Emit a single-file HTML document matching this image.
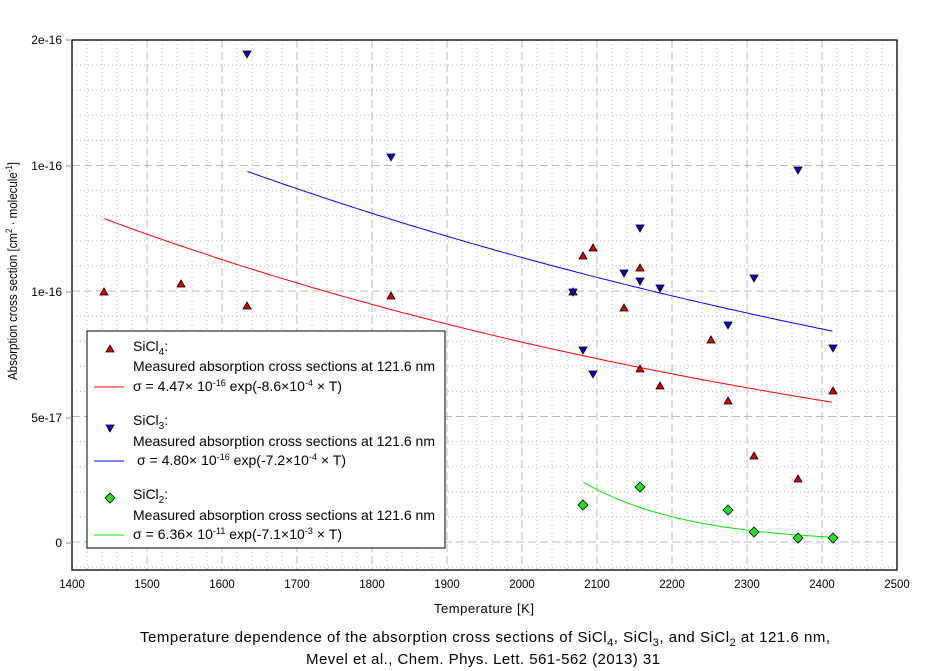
<!DOCTYPE html>
<html><head><meta charset="utf-8"><style>
html,body{margin:0;padding:0;background:#fff;}
svg{display:block;font-family:"Liberation Sans",Arial,sans-serif;}
</style></head><body>
<svg id="s" width="937" height="671" viewBox="0 0 937 671" xmlns="http://www.w3.org/2000/svg">
<g id="grid"></g>
<g id="curves" fill="none" stroke-width="1"></g>
<g id="pts" stroke="#000" stroke-width="0.8"></g>
<rect x="72" y="40" width="825" height="530" fill="none" stroke="#000" stroke-width="1.3"/>
<g id="labels" font-size="12" fill="#000"></g>
<text transform="translate(17,271) rotate(-90)" text-anchor="middle" font-size="13" textLength="218" lengthAdjust="spacingAndGlyphs">Absorption cross section [cm<tspan dy="-5" font-size="9">2</tspan><tspan dy="5"> · molecule</tspan><tspan dy="-5" font-size="9">-1</tspan><tspan dy="5">]</tspan></text>
<text x="484" y="613" text-anchor="middle" font-size="13" textLength="100" lengthAdjust="spacing">Temperature [K]</text>
<text x="140" y="642" font-size="15" textLength="690" lengthAdjust="spacing">Temperature dependence of the absorption cross sections of SiCl<tspan dy="4" font-size="11">4</tspan><tspan dy="-4">, SiCl</tspan><tspan dy="4" font-size="11">3</tspan><tspan dy="-4">, and SiCl</tspan><tspan dy="4" font-size="11">2</tspan><tspan dy="-4"> at 121.6 nm,</tspan></text>
<text x="306" y="664" font-size="15" textLength="354" lengthAdjust="spacing">Mevel et al., Chem. Phys. Lett. 561-562 (2013) 31</text>
<g id="legend">
<rect x="87" y="331" width="358" height="217" fill="#fff" stroke="#000" stroke-width="1"/>
<polygon points="110,345 114,352 106,352" fill="#e00000" stroke="#000" stroke-width="0.8"/>
<text x="133" y="351" font-size="14">SiCl<tspan dy="4" font-size="10">4</tspan><tspan dy="-4">:</tspan></text>
<text x="133" y="371" font-size="14" textLength="302" lengthAdjust="spacing">Measured absorption cross sections at 121.6 nm</text>
<line x1="94" y1="387" x2="124" y2="387" stroke="#ff0000"/>
<text x="133" y="391" font-size="14" textLength="209" lengthAdjust="spacing">σ = 4.47× 10<tspan dy="-5" font-size="9">-16</tspan><tspan dy="5"> exp(-8.6×10</tspan><tspan dy="-5" font-size="9">-4</tspan><tspan dy="5"> × T)</tspan></text>
<polygon points="106,425 114,425 110,432" fill="#0000e0" stroke="#000" stroke-width="0.8"/>
<text x="133" y="425" font-size="14">SiCl<tspan dy="4" font-size="10">3</tspan><tspan dy="-4">:</tspan></text>
<text x="133" y="446" font-size="14" textLength="302" lengthAdjust="spacing">Measured absorption cross sections at 121.6 nm</text>
<line x1="94" y1="461" x2="124" y2="461" stroke="#0000ff"/>
<text x="137" y="465" font-size="14" textLength="209" lengthAdjust="spacing">σ = 4.80× 10<tspan dy="-5" font-size="9">-16</tspan><tspan dy="5"> exp(-7.2×10</tspan><tspan dy="-5" font-size="9">-4</tspan><tspan dy="5"> × T)</tspan></text>
<polygon points="110,493 115,498 110,503 105,498" fill="#22e022" stroke="#000" stroke-width="0.8"/>
<text x="133" y="499" font-size="14">SiCl<tspan dy="4" font-size="10">2</tspan><tspan dy="-4">:</tspan></text>
<text x="133" y="520" font-size="14" textLength="302" lengthAdjust="spacing">Measured absorption cross sections at 121.6 nm</text>
<line x1="94" y1="535" x2="124" y2="535" stroke="#00ee00"/>
<text x="133" y="539" font-size="14" textLength="209" lengthAdjust="spacing">σ = 6.36× 10<tspan dy="-5" font-size="9">-11</tspan><tspan dy="5"> exp(-7.1×10</tspan><tspan dy="-5" font-size="9">-3</tspan><tspan dy="5"> × T)</tspan></text>
</g>
</svg>
<script>
const NS="http://www.w3.org/2000/svg";
function el(p,t,a,txt){const e=document.createElementNS(NS,t);for(const k in a)e.setAttribute(k,a[k]);if(txt!==undefined)e.textContent=txt;document.getElementById(p).appendChild(e);return e;}
const X=T=>72+(T-1400)*0.75, Y=v=>543-v/5e-17*125.5;
for(let T=1420;T<2500;T+=20){ if(T%100===0)continue; el("grid","line",{x1:X(T),x2:X(T),y1:40,y2:570,stroke:"#bbb","stroke-dasharray":"1,3"}); }
for(let T=1500;T<2500;T+=100){ el("grid","line",{x1:X(T),x2:X(T),y1:40,y2:570,stroke:"#bbb","stroke-dasharray":"8,4"}); }
for(let y=40;y<570;y+=125.5/5){ const maj=Math.abs(((y-40)/125.5)-Math.round((y-40)/125.5))<0.01; if(y<=41)continue;
 el("grid","line",{x1:72,x2:897,y1:y,y2:y,stroke:"#bbb","stroke-dasharray":maj?"8,4":"1,3"}); }
[["2e-16",40],["1e-16",166],["1e-16",292],["5e-17",418],["0",543]].forEach(([t,y])=>{
 el("labels","text",{x:62,y:y+4,"text-anchor":"end"},t);
 el("labels","line",{x1:66,x2:72,y1:y,y2:y,stroke:"#888"});
});
for(let T=1400;T<=2500;T+=100) el("labels","text",{x:X(T),y:588,"text-anchor":"middle","font-size":"11.5"},String(T));
function curve(a,b,t0,t1,c){let d="";for(let T=t0;T<=t1;T+=5){d+=(d?"L":"M")+X(T).toFixed(1)+","+Y(a*Math.exp(b*T)).toFixed(1);}el("curves","path",{d:d,stroke:c});}
curve(4.47e-16,-8.6e-4,1443,2415,"#ff0000");
curve(4.80e-16,-7.2e-4,1634,2415,"#0000ff");
curve(6.36e-11,-7.1e-3,2082,2415,"#00ee00");
const red=[[104,292],[181,284],[247,306],[391,296],[573,292],[583,256],[593,248],[624,308],[640,268],[640,369],[660,386],[711,340],[728,401],[754,456],[798,479],[833,391]];
const blue=[[247,54],[391,157],[573,292],[583,350],[593,374],[624,273],[640,228],[640,281],[660,288],[728,325],[754,278],[798,170],[833,348]];
const green=[[583,505],[640,487],[728,510],[754,532],[798,538],[833,538]];
red.forEach(([x,y])=>el("pts","polygon",{points:`${x},${y-4} ${x+4},${y+3} ${x-4},${y+3}`,fill:"#e00000"}));
blue.forEach(([x,y])=>el("pts","polygon",{points:`${x-4},${y-3} ${x+4},${y-3} ${x},${y+4}`,fill:"#0000e0"}));
green.forEach(([x,y])=>el("pts","polygon",{points:`${x},${y-5} ${x+5},${y} ${x},${y+5} ${x-5},${y}`,fill:"#22e022"}));
</script>
</body></html>
